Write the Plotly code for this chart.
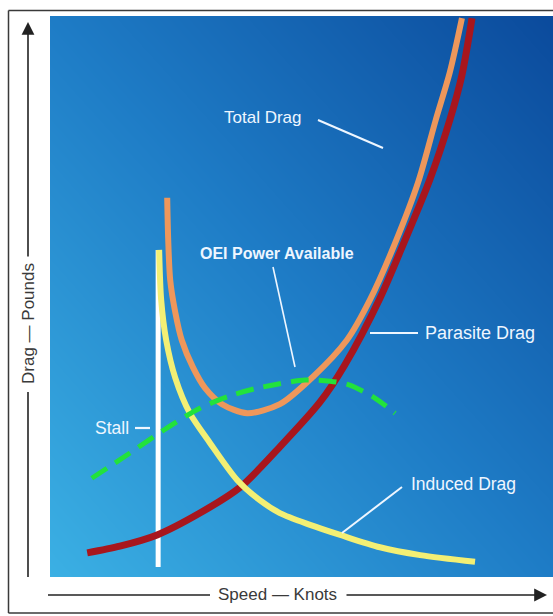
import numpy as np
import plotly.graph_objects as go

# ---------------- data (arbitrary units: speed 0-100, drag 0-100) ----------------
parasite_speed = [7.4, 13.9, 21.3, 29.8, 37.8, 45.7, 53.7, 58.6, 65.6, 70.6, 75.5, 79.5, 81.9, 83.9]
parasite_drag = [4.3, 5.5, 7.5, 11.4, 16.0, 23.2, 31.2, 37.8, 49.7, 60.1, 70.8, 81.5, 89.5, 99.6]

induced_speed = [21.7, 22.1, 23.1, 24.9, 27.8, 31.8, 37.2, 41.7, 45.7, 51.7, 57.7, 65.6, 73.6, 84.5]
induced_drag = [58.3, 49.4, 42.2, 35.5, 29.2, 23.9, 17.3, 13.7, 11.4, 9.3, 7.5, 5.3, 3.9, 2.7]

total_speed = [23.3, 23.5, 23.9, 24.9, 26.2, 28.4, 30.8, 34.2, 39.2, 45.7, 52.3, 59.0, 63.6, 68.6, 73.2, 76.7, 79.5, 81.9]
total_drag = [67.6, 60.1, 52.9, 47.2, 42.2, 37.4, 33.7, 30.8, 29.2, 30.8, 35.7, 42.2, 49.4, 59.5, 70.4, 81.5, 90.0, 99.6]

oei_speed = [8.3, 15.9, 23.3, 29.8, 35.8, 41.4, 50.7, 55.7, 59.6, 64.6, 68.6]
oei_power = [17.6, 22.1, 26.6, 30.1, 32.3, 33.7, 35.1, 34.9, 34.2, 31.9, 29.2]

stall_speed = [21.5, 21.5]
stall_drag = [1.8, 58.3]

# ---------------- layout geometry ----------------
W, H = 553, 616
L, T, B = 50, 16, 39
PW, PH = W - L, H - T - B


def px(x):
    return (x - L) / PW


def py(y):
    return (H - B - y) / PH


fig = go.Figure()

# background gradient (light bottom-left -> dark top-right)
g = np.linspace(-2, 102, 14)
gx, gy = np.meshgrid(g, g)
fig.add_trace(go.Heatmap(
    x=g, y=g, z=gx + gy, zsmooth="best", showscale=False, hoverinfo="skip",
    colorscale=[[0, "#3cb2e5"], [0.5, "#1e7cc6"], [1, "#0a489a"]],
))

spline = dict(shape="spline", smoothing=0.8)
fig.add_trace(go.Scatter(x=stall_speed, y=stall_drag, mode="lines",
                         line=dict(color="#ffffff", width=5), hoverinfo="skip"))
fig.add_trace(go.Scatter(x=parasite_speed, y=parasite_drag, mode="lines",
                         line=dict(color="#a8161d", width=7, **spline), hoverinfo="skip"))
fig.add_trace(go.Scatter(x=induced_speed, y=induced_drag, mode="lines",
                         line=dict(color="#f3ef74", width=6, **spline), hoverinfo="skip"))
fig.add_trace(go.Scatter(x=total_speed, y=total_drag, mode="lines",
                         line=dict(color="#ee975b", width=6, **spline), hoverinfo="skip"))
fig.add_trace(go.Scatter(x=oei_speed, y=oei_power, mode="lines",
                         line=dict(color="#22e23c", width=5, dash="18px,10px", **spline),
                         hoverinfo="skip"))

shapes = []


def seg(x0, y0, x1, y1, color, width):
    shapes.append(dict(type="line", xref="paper", yref="paper",
                       x0=px(x0), y0=py(y0), x1=px(x1), y1=py(y1),
                       line=dict(color=color, width=width)))


# outer frame (top, left, bottom; right edge lies outside the picture)
fc = "#3a3a3a"
seg(8.5, 10.5, 553, 10.5, fc, 1.5)
seg(8.5, 10.5, 8.5, 613, fc, 1.5)
seg(8.5, 613, 553, 613, fc, 1.5)
# axis line pieces
seg(28, 392, 28, 577, "#222222", 1.6)
seg(48, 595, 210, 595, "#222222", 1.6)
# label pointers
wl = "#eef6ff"
seg(318, 120, 383, 148, wl, 2)
seg(273, 267, 295, 367, wl, 1.6)
seg(370, 333, 418, 333, wl, 2.2)
seg(402, 487, 342, 533, wl, 2)
seg(135, 428, 150, 428, wl, 2.2)

annotations = []


def label(text, x, y, size, color, bold=False, angle=0):
    annotations.append(dict(
        text=f"<b>{text}</b>" if bold else text, xref="paper", yref="paper",
        x=px(x), y=py(y), xanchor="center", yanchor="middle", showarrow=False,
        textangle=angle,
        font=dict(family="Liberation Sans, Arial, sans-serif", size=size, color=color)))


def arrow(x_tip, y_tip, ax, ay):
    annotations.append(dict(
        text="", xref="paper", yref="paper", x=px(x_tip), y=py(y_tip),
        ax=ax, ay=ay, showarrow=True, arrowhead=2, arrowsize=1.6,
        arrowwidth=1.6, arrowcolor="#222222"))


arrow(28, 22, 0, 236)
arrow(547, 595, -202, 0)

label("Drag — Pounds", 28, 324, 17, "#3a3a3a", angle=-90)
label("Speed — Knots", 277, 594, 17, "#3a3a3a")

label("Total Drag", 262, 117, 17, wl)
label("OEI Power Available", 277, 253, 16, wl, bold=True)
label("Parasite Drag", 480, 333, 18, wl)
label("Induced Drag", 463, 484, 17.5, wl)
label("Stall", 112, 428, 17.5, wl)

fig.update_layout(
    width=W, height=H,
    margin=dict(l=L, r=0, t=T, b=B),
    paper_bgcolor="#ffffff", plot_bgcolor="#1e7cc6",
    showlegend=False,
    shapes=shapes, annotations=annotations,
    xaxis=dict(range=[0, 100], visible=False, fixedrange=True),
    yaxis=dict(range=[0, 100], visible=False, fixedrange=True),
)

fig.write_html(
    "out.html",
    config={"displayModeBar": False},
    post_script="document.body.style.margin='0';document.body.style.overflow='hidden';",
)
